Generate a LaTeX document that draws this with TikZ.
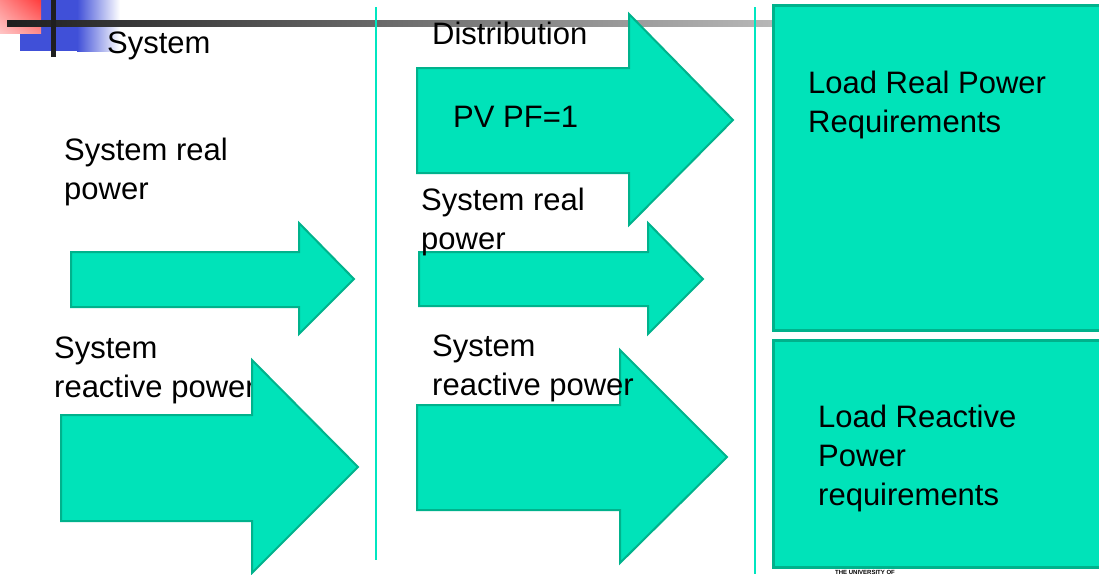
\documentclass[tikz,border=0pt]{standalone}
\usepackage{fontspec}
\setmainfont{Liberation Sans}
\usepackage{tikz}
\usetikzlibrary{positioning,shadings}
\definecolor{aqua}{RGB}{0,227,185}
\definecolor{aquaedge}{RGB}{0,178,140}
\definecolor{logoblue}{RGB}{64,80,216}
\definecolor{logored}{RGB}{255,60,60}

\begin{document}
\begin{tikzpicture}[x=1pt,y=-1pt,
    fat/.style={fill=aqua,draw=aquaedge,line width=2pt,line join=miter},
    loadbox/.style={fill=aqua,draw=aquaedge,line width=3pt},
    divider/.style={draw=aqua!90!cyan,line width=1.8pt},
    txt/.style={anchor=base west,inner sep=0pt,align=left,font=\fontsize{31}{39}\selectfont}]
    \useasboundingbox (0,0) rectangle (1099,574);
    \clip (0,0) rectangle (1099,574);
    % logo corner
    \fill[logoblue] (20,0) rectangle (77,51);
    \shade[left color=logoblue,right color=white] (77,0) rectangle (120,51);
    \shade[upper right=logored,lower left=logored!30,upper left=logored!60,lower right=logored!60] (0,0) rectangle (41,33);
    \shade[left color=black!88,right color=black!28] (7,20) rectangle (773,26);
    \fill[black!88] (51,0) rectangle (56,57);
    % dividers and loads
    \draw[divider] (376,7) -- (376,560);
    \draw[divider] (755,7) -- (755,574);
    \draw[loadbox] (773,5) rectangle (1110,330);
    \draw[loadbox] (773,340) rectangle (1110,567);
    \node[txt] (loadP) at (808,132) {Load Real Power\\Requirements};
    \node[txt] (loadQ) at (818,505) {Load Reactive\\Power\\requirements};
    \node[anchor=north west,inner sep=0pt,font=\fontsize{6}{7}\selectfont\bfseries] (univ) at (835,570) {THE UNIVERSITY OF};
    % system side
    \node[txt] (sys) at (107,53) {System};
    \node[txt] (realL) at (64,199) {System real\\power};
    \node[txt] (reacL) at (54,397) {System\\reactive power};
    \draw[fat] (71,252) -- (299,252) -- (299,223) -- (354,279) -- (299,334) -- (299,307) -- (71,307) -- cycle;
    \draw[fat] (61,415) -- (252,415) -- (252,360) -- (358,467) -- (252,573) -- (252,521) -- (61,521) -- cycle;
    % distribution side
    \draw[fat] (417,68) -- (629,68) -- (629,14) -- (733,120) -- (629,225) -- (629,173) -- (417,173) -- cycle;
    \draw[fat] (419,252) -- (648,252) -- (648,223) -- (703,279) -- (648,334) -- (648,306) -- (419,306) -- cycle;
    \draw[fat] (417,405) -- (620,405) -- (620,350) -- (727,457) -- (620,563) -- (620,510) -- (417,510) -- cycle;
    \node[txt] (dist) at (432,44) {Distribution};
    \node[txt] (pv) at (453,127) {PV PF=1};
    \node[txt] (realM) at (421,249) {System real\\power};
    \node[txt] (reacM) at (432,395) {System\\reactive power};
\end{tikzpicture}
\end{document}
